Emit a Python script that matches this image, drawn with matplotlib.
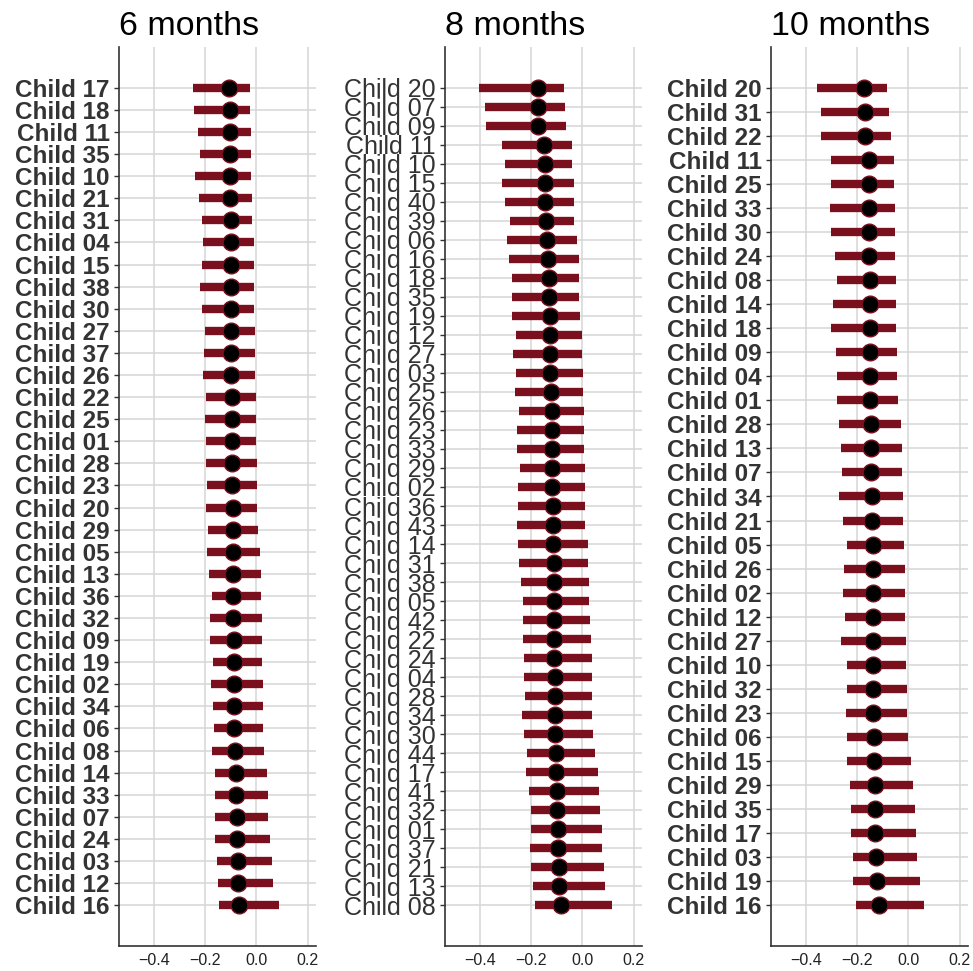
import numpy as np
import matplotlib
matplotlib.use("Agg")
import matplotlib.pyplot as plt

plt.rcParams['font.family'] = ['Liberation Sans', 'DejaVu Sans']

# 6 months
m6_children = ["17", "18", "11", "35", "10", "21", "31", "04", "15", "38", "30", "27", "37",
               "26", "22", "25", "01", "28", "23", "20", "29", "05", "13", "36", "32", "09",
               "19", "02", "34", "06", "08", "14", "33", "07", "24", "03", "12", "16"]
m6_est = [-0.105, -0.104, -0.103, -0.102, -0.102, -0.101, -0.100, -0.100, -0.099, -0.099,
          -0.098, -0.098, -0.097, -0.097, -0.096, -0.096, -0.095, -0.095, -0.094, -0.093,
          -0.093, -0.092, -0.091, -0.090, -0.090, -0.089, -0.088, -0.087, -0.086, -0.086,
          -0.085, -0.080, -0.078, -0.077, -0.075, -0.073, -0.072, -0.068]
m6_lo = [-0.246, -0.242, -0.229, -0.220, -0.238, -0.222, -0.213, -0.209, -0.213, -0.218,
         -0.210, -0.201, -0.203, -0.208, -0.195, -0.201, -0.195, -0.197, -0.193, -0.197,
         -0.188, -0.191, -0.184, -0.174, -0.180, -0.179, -0.169, -0.178, -0.169, -0.167,
         -0.173, -0.163, -0.161, -0.162, -0.160, -0.152, -0.150, -0.144]
m6_hi = [-0.026, -0.026, -0.022, -0.022, -0.022, -0.017, -0.017, -0.010, -0.009, -0.009,
         -0.009, -0.006, -0.004, -0.004, -0.003, -0.003, 0.000, 0.003, 0.003, 0.004,
         0.008, 0.013, 0.017, 0.018, 0.020, 0.020, 0.022, 0.025, 0.027, 0.027,
         0.029, 0.042, 0.046, 0.046, 0.052, 0.059, 0.065, 0.087]

# 8 months
m8_children = ["20", "07", "09", "11", "10", "15", "40", "39", "06", "16", "18", "35", "19",
               "12", "27", "03", "25", "26", "23", "33", "29", "02", "36", "43", "14", "31",
               "38", "05", "42", "22", "24", "04", "28", "34", "30", "44", "17", "41", "32",
               "01", "37", "21", "13", "08"]
m8_est = [-0.174, -0.174, -0.174, -0.148, -0.147, -0.146, -0.145, -0.141, -0.139, -0.134,
          -0.131, -0.129, -0.128, -0.127, -0.126, -0.125, -0.121, -0.120, -0.119, -0.119,
          -0.118, -0.117, -0.116, -0.115, -0.113, -0.112, -0.111, -0.110, -0.110, -0.109,
          -0.109, -0.108, -0.107, -0.106, -0.105, -0.102, -0.101, -0.098, -0.097, -0.095,
          -0.095, -0.092, -0.090, -0.083]
m8_lo = [-0.403, -0.378, -0.376, -0.315, -0.300, -0.315, -0.300, -0.282, -0.292, -0.287,
         -0.276, -0.273, -0.276, -0.259, -0.269, -0.258, -0.261, -0.247, -0.256, -0.254,
         -0.243, -0.250, -0.249, -0.254, -0.249, -0.246, -0.241, -0.230, -0.230, -0.232,
         -0.229, -0.226, -0.225, -0.237, -0.228, -0.216, -0.219, -0.209, -0.202, -0.202,
         -0.205, -0.202, -0.191, -0.186]
m8_hi = [-0.070, -0.066, -0.065, -0.041, -0.040, -0.034, -0.034, -0.031, -0.022, -0.014,
         -0.012, -0.012, -0.009, -0.001, -0.001, 0.001, 0.001, 0.005, 0.005, 0.005,
         0.012, 0.010, 0.012, 0.012, 0.022, 0.022, 0.025, 0.027, 0.030, 0.034,
         0.038, 0.038, 0.038, 0.038, 0.040, 0.049, 0.060, 0.066, 0.069, 0.075,
         0.076, 0.083, 0.089, 0.115]

# 10 months
m10_children = ["20", "31", "22", "11", "25", "33", "30", "24", "08", "14", "18", "09",
                "04", "01", "28", "13", "07", "34", "21", "05", "26", "02", "12", "27",
                "10", "32", "23", "06", "15", "29", "35", "17", "03", "19", "16"]
m10_est = [-0.172, -0.170, -0.169, -0.155, -0.155, -0.154, -0.153, -0.152, -0.150, -0.150,
           -0.150, -0.149, -0.148, -0.148, -0.146, -0.144, -0.144, -0.143, -0.142, -0.139,
           -0.139, -0.139, -0.138, -0.138, -0.137, -0.136, -0.136, -0.135, -0.134, -0.131,
           -0.130, -0.129, -0.125, -0.121, -0.114]
m10_lo = [-0.357, -0.340, -0.340, -0.300, -0.303, -0.304, -0.302, -0.286, -0.277, -0.293,
          -0.302, -0.281, -0.277, -0.277, -0.271, -0.263, -0.259, -0.271, -0.255, -0.240,
          -0.252, -0.256, -0.248, -0.264, -0.240, -0.239, -0.244, -0.240, -0.239, -0.229,
          -0.224, -0.222, -0.217, -0.214, -0.204]
m10_hi = [-0.082, -0.075, -0.069, -0.056, -0.055, -0.052, -0.052, -0.052, -0.049, -0.049,
          -0.047, -0.046, -0.043, -0.040, -0.029, -0.025, -0.025, -0.022, -0.020, -0.016,
          -0.014, -0.013, -0.012, -0.010, -0.009, -0.004, -0.004, 0.000, 0.009, 0.016,
          0.026, 0.028, 0.035, 0.046, 0.061]

x_ticks = [-0.4, -0.2, 0.0, 0.2]
x_range = (-0.535, 0.232)

bar_col = "#7a0f1e"
grid_col = "#d6d6d6"
text_col = "#333333"

W, H = 973, 971
fig = plt.figure(figsize=(W / 100, H / 100), dpi=100)
fig.patch.set_facecolor("white")


def draw_panel(left_px, title, children, est, lo, hi, weight):
    ax = fig.add_axes([left_px / W, 25 / H, 197 / W, 899 / H])
    y = np.arange(len(children))
    ax.hlines(y, lo, hi, color=bar_col, lw=6, capstyle="butt", zorder=3)
    ax.plot(est, y, "o", ms=12, mfc="black", mec=bar_col, mew=1, zorder=4)
    ax.set_ymargin(0.05)
    ax.autoscale_view()
    ax.invert_yaxis()
    ax.set_xlim(*x_range)
    ax.set_xticks(x_ticks)
    ax.set_xticklabels([f"{t:.1f}".replace("-", "\u2212") for t in x_ticks])
    ax.set_yticks(y)
    ax.set_yticklabels(["Child " + c for c in children])
    ax.grid(True, color=grid_col, lw=1.1, zorder=0)
    ax.set_axisbelow(True)
    for s in ["top", "right"]:
        ax.spines[s].set_visible(False)
    for s in ["left", "bottom"]:
        ax.spines[s].set_color(text_col)
        ax.spines[s].set_linewidth(1.2)
    ax.tick_params(axis="y", length=3.5, width=1, color=text_col, pad=3,
                   labelsize=18 if weight == "normal" else 17.5, labelcolor=text_col)
    ax.tick_params(axis="x", length=0, pad=5, labelsize=11.5, labelcolor="#222222")
    for lab in ax.get_yticklabels():
        lab.set_fontweight(weight)
    fig.text(left_px / W, (H - 35) / H, title, fontsize=24.5, color="black",
             ha="left", va="baseline")
    return ax


draw_panel(119, "6 months", m6_children, m6_est, m6_lo, m6_hi, "bold")
draw_panel(445, "8 months", m8_children, m8_est, m8_lo, m8_hi, "normal")
draw_panel(771, "10 months", m10_children, m10_est, m10_lo, m10_hi, "bold")

fig.savefig("out.png", dpi=100, facecolor="white")
